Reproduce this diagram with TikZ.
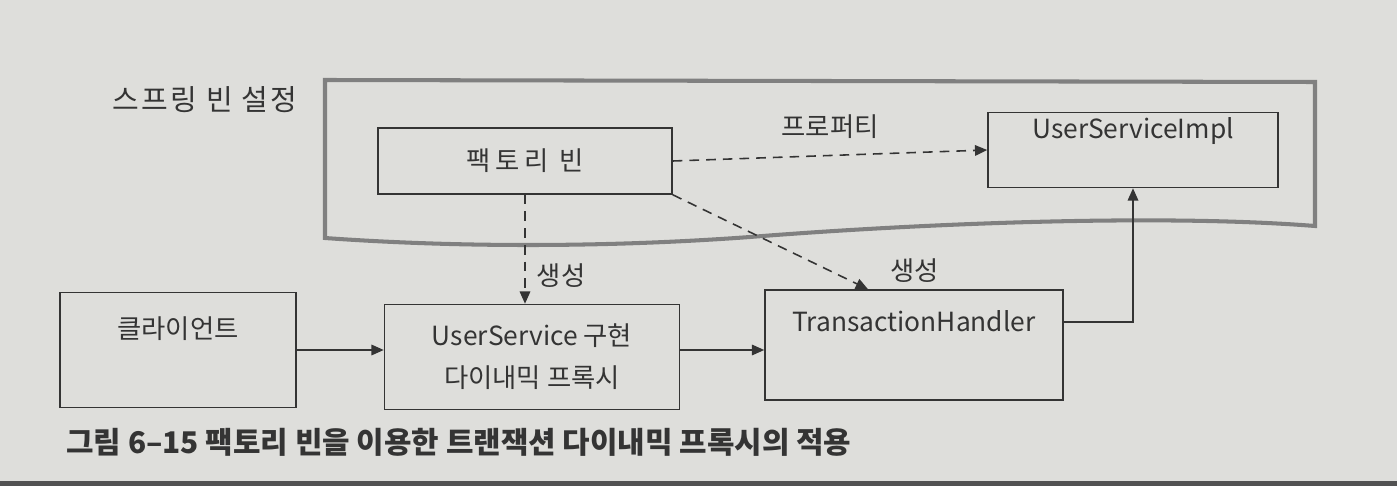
\documentclass[tikz,border=0pt]{standalone}
\usepackage{fontspec}
\setmainfont{Noto Sans CJK KR}
\usetikzlibrary{arrows.meta, positioning}
\usepackage{xcolor}
\definecolor{paper}{RGB}{222,222,219}
\definecolor{ink}{RGB}{52,52,52}
\definecolor{frame}{RGB}{128,128,128}

\begin{document}
\begin{tikzpicture}[x=0.02cm, y=-0.02cm,
    box/.style={draw=ink, line width=0.9pt, fill=paper, inner sep=0pt, align=center,
                font=\fontsize{15}{24}\selectfont, text=ink},
    flow/.style={draw=ink, line width=0.9pt, -{Triangle[length=7pt,width=6pt]}},
    depend/.style={flow, dash pattern=on 5.5pt off 4pt},
    lbl/.style={font=\fontsize{15}{18}\selectfont, text=ink}]
    % Fundo
    \fill[paper] (0,0) rectangle (1397,486);
    \fill[ink!85] (0,481) rectangle (1397,486);
    % Spring bean settings
    \draw[frame, line width=2.3pt, fill=paper] (325,80) -- (1315,82) -- (1315,226)
        .. controls (1150,213) and (900,225) .. (750,237)
        .. controls (600,248) and (450,247) .. (325,238) -- cycle;
    \node[lbl, font=\fontsize{16.5}{18}\selectfont\addfontfeature{LetterSpace=8}] (springLbl) at (205,100) {스프링 빈 설정};
    % Boxes
    \node[box, minimum width=5.88cm, minimum height=1.32cm] (factory) at (525,161)
        {\addfontfeature{LetterSpace=18}팩토리 빈};
    \node[box, minimum width=5.8cm, minimum height=1.5cm] (impl) at (1133,150) {UserServiceImpl\\[-6pt]\strut};
    \node[box, minimum width=4.72cm, minimum height=2.3cm] (client) at (178,350) {클라이언트\\[-6pt]\strut};
    \node[box, minimum width=5.9cm, minimum height=2.1cm] (proxy) at (532,357) {UserService 구현\\다이내믹 프록시};
    \node[box, minimum width=5.96cm, minimum height=2.2cm] (handler) at (914,345) {TransactionHandler\\[-4pt]\strut};
    % Arrows
    \draw[depend] (factory.east) -- (impl.west) node[lbl, midway, above=6pt] (propLbl) {프로퍼티};
    \draw[depend] (factory.south) -- (factory.south |- proxy.north)
        node[lbl, pos=0.74, right=3pt] (makeLbl) {생성};
    \draw[depend] (factory.south east) -- ([xshift=-0.92cm]handler.north)
        node[lbl, at end, anchor=south west, xshift=9pt] (makeLblB) {생성};
    \draw[flow] (client.east) -- (client.east -| proxy.west);
    \draw[flow] (proxy.east |- client.east) -- (handler.west |- client.east);
    \draw[flow] ([yshift=0.46cm]handler.east) -| (impl.south);
    % Legenda
    \node[lbl, font=\fontsize{17}{19}\selectfont\bfseries, anchor=west] (caption) at (60,442)
        {그림 6–15 팩토리 빈을 이용한 트랜잭션 다이내믹 프록시의 적용};
\end{tikzpicture}
\end{document}
